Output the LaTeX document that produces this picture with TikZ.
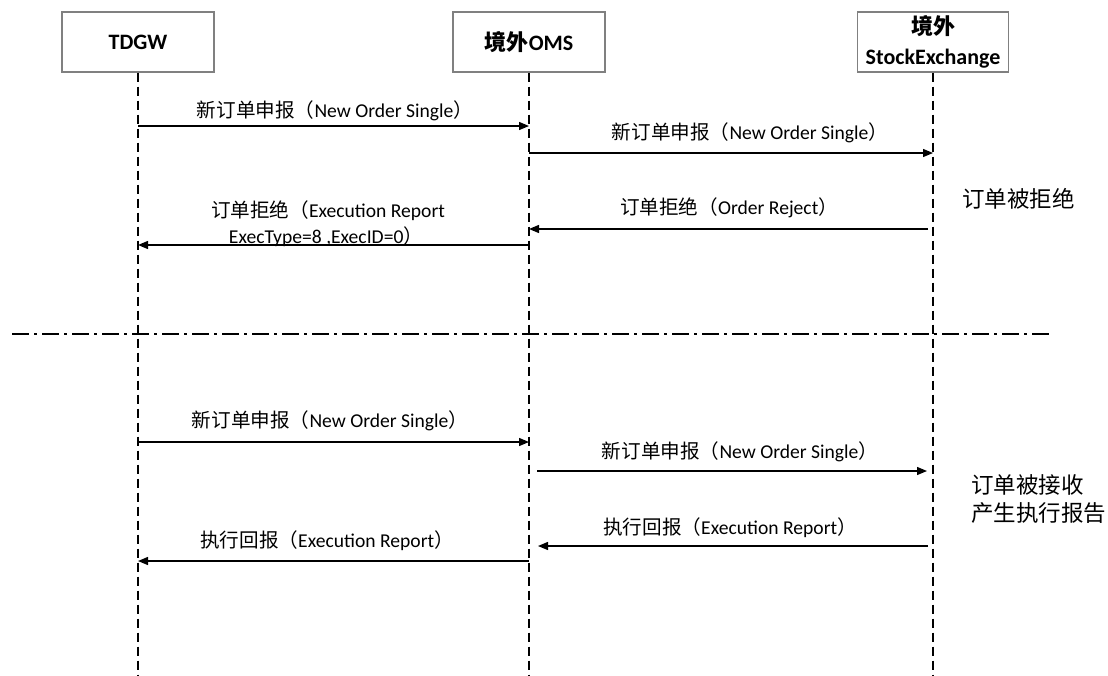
\documentclass[tikz,border=0pt]{standalone}
\usepackage{fontspec}
\setmainfont{Carlito}
\newfontfamily\cjk{Noto Sans CJK SC}
\usetikzlibrary{arrows.meta}
\tikzset{
  actor/.style={draw=boxgray, line width=1.2pt, fill=white, minimum width=152pt, minimum height=60pt, inner sep=0pt, align=center, font=\fontsize{22}{30}\selectfont\bfseries},
  life/.style={line width=1.3pt, dash pattern=on 9pt off 5pt},
  msg/.style={line width=1.3pt, -{Triangle[length=10pt,width=8pt]}},
  lbl/.style={anchor=base, inner sep=0pt, font=\fontsize{19.6}{24}\selectfont},
  side/.style={anchor=base west, inner sep=0pt, font=\fontsize{22.5}{28}\selectfont\cjk},
  sep/.style={line width=1.2pt, dash pattern=on 17pt off 5pt on 3pt off 5pt}
}
\definecolor{boxgray}{RGB}{128,128,128}
\begin{document}
\begin{tikzpicture}[x=1pt,y=-1pt]
\useasboundingbox[fill=white] (0,0) rectangle (1108,675);
% actors
\node[actor] (tdgw) at (138,42) {TDGW};
\node[actor] (oms) at (529,42) {{\cjk 境外}OMS};
\node[actor, minimum width=151.5pt] (ex) at (933,42) {{\cjk 境外}\\StockExchange};
% lifeline ends
\coordinate (tdgwB) at (138,675);
\coordinate (omsB) at (529,675);
\coordinate (exB) at (933,675);
\draw[life] (tdgw.south) -- (tdgwB);
\draw[life] (oms.south) -- (omsB);
\draw[life] (ex.south) -- (exB);
% separator
\coordinate (sepL) at (12,334);
\coordinate (sepR) at (1050,334);
\draw[sep] (sepL) -- (sepR);
% message endpoints
\coordinate (a1s) at (138,126); \coordinate (a1e) at (529,126);
\coordinate (a2s) at (529,153); \coordinate (a2e) at (933,153);
\coordinate (a3s) at (928,229); \coordinate (a3e) at (529,229);
\coordinate (a4s) at (529,245); \coordinate (a4e) at (138,245);
\coordinate (a5s) at (138,442); \coordinate (a5e) at (529,442);
\coordinate (a6s) at (537,471); \coordinate (a6e) at (927,471);
\coordinate (a7s) at (928,546); \coordinate (a7e) at (538,546);
\coordinate (a8s) at (529,561); \coordinate (a8e) at (138,561);
\draw[msg] (a1s) -- (a1e);
\draw[msg] (a2s) -- (a2e);
\draw[msg] (a3s) -- (a3e);
\draw[msg] (a4s) -- (a4e);
\draw[msg] (a5s) -- (a5e);
\draw[msg] (a6s) -- (a6e);
\draw[msg] (a7s) -- (a7e);
\draw[msg] (a8s) -- (a8e);
% labels
\node[lbl] (l1) at (335,117) {{\cjk 新订单申报（}New Order Single{\cjk ）}};
\node[lbl] (l2) at (750,139) {{\cjk 新订单申报（}New Order Single{\cjk ）}};
\node[lbl] (l3) at (729,214) {{\cjk 订单拒绝（}Order Reject{\cjk ）}};
\node[lbl] (l4a) at (328,217) {{\cjk 订单拒绝（}Execution Report};
\node[lbl] (l4b) at (326,243) {ExecType=8 ,ExecID=0{\cjk ）}};
\node[lbl] (l5) at (330,427) {{\cjk 新订单申报（}New Order Single{\cjk ）}};
\node[lbl] (l6) at (740,458) {{\cjk 新订单申报（}New Order Single{\cjk ）}};
\node[lbl] (l7) at (730,534) {{\cjk 执行回报（}Execution Report{\cjk ）}};
\node[lbl] (l8) at (327,547) {{\cjk 执行回报（}Execution Report{\cjk ）}};
% side notes
\node[side] (s1) at (962,207.5) {订单被拒绝};
\node[side] (s2) at (971,493.5) {订单被接收};
\node[side] (s3) at (971,521.5) {产生执行报告};
\end{tikzpicture}
\end{document}
